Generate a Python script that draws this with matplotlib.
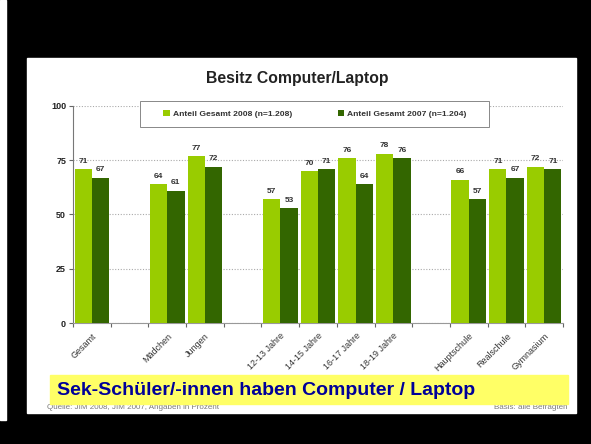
import matplotlib.pyplot as plt
import matplotlib.patches as mpatches
import numpy as np

plt.rcParams['font.family'] = ['Liberation Sans', 'DejaVu Sans']

categories = ['Gesamt', '', 'Mädchen', 'Jungen', '', '12-13 Jahre', '14-15 Jahre',
              '16-17 Jahre', '18-19 Jahre', '', 'Hauptschule', 'Realschule', 'Gymnasium']
val_2008 = [71, None, 64, 77, None, 57, 70, 76, 78, None, 66, 71, 72]
val_2007 = [67, None, 61, 72, None, 53, 71, 64, 76, None, 57, 67, 71]
label_2008 = 'Anteil Gesamt 2008 (n=1.208)'
label_2007 = 'Anteil Gesamt 2007 (n=1.204)'

light = '#99cc00'
dark = '#336600'

fig = plt.figure(figsize=(5.91, 4.44), dpi=100, facecolor='black')

# white strip on the left and the white slide
fig.patches.append(mpatches.Rectangle((0, 24 / 444), 6 / 591, 420 / 444,
                                      transform=fig.transFigure, color='white', zorder=-2))
fig.patches.append(mpatches.Rectangle((27 / 591, 1 - 413 / 444), 549 / 591, 355 / 444,
                                      transform=fig.transFigure, color='white', zorder=-2))

ax = fig.add_axes([73 / 591, 1 - 323 / 444, 490 / 591, 217 / 444])
ax.set_facecolor('none')
ax.set_zorder(1)

x = np.arange(len(categories))
w = 0.46
idx = [i for i, v in enumerate(val_2008) if v is not None]
v08 = [val_2008[i] for i in idx]
v07 = [val_2007[i] for i in idx]
xi = x[idx]
b1 = ax.bar(xi - w / 2, v08, w, color=light, label=label_2008, zorder=3)
b2 = ax.bar(xi + w / 2, v07, w, color=dark, label=label_2007, zorder=3)
for xx, v in zip(xi, v08):
    ax.text(xx - w / 2, v + 2, str(v), ha='center', va='bottom', fontsize=6,
            fontweight='bold', color='#333333', zorder=4)
for xx, v in zip(xi, v07):
    ax.text(xx + w / 2, v + 2, str(v), ha='center', va='bottom', fontsize=6,
            fontweight='bold', color='#333333', zorder=4)

ax.set_xlim(-0.5, len(categories) - 0.5)
ax.set_ylim(0, 100)
ax.set_yticks([0, 25, 50, 75, 100])
ax.tick_params(axis='y', labelsize=6.5, length=3, color='#666666', width=0.8, pad=2)
for t in ax.get_yticklabels():
    t.set_fontweight('bold')
    t.set_color('#222222')
ax.yaxis.grid(True, linestyle=(0, (1, 1.5)), color='#aaaaaa', linewidth=0.8, zorder=0)
ax.set_axisbelow(True)

ax.set_xticks(xi)
ax.set_xticklabels([categories[i] for i in idx], rotation=45, ha='right',
                   rotation_mode='anchor', fontsize=6.5, color='#333333')
ax.tick_params(axis='x', which='major', length=0, pad=6)
ax.set_xticks(np.arange(-0.5, len(categories)), minor=True)
ax.tick_params(axis='x', which='minor', length=3, color='#666666', width=0.8)

for s in ['top', 'right']:
    ax.spines[s].set_visible(False)
ax.spines['left'].set_color('#777777')
ax.spines['bottom'].set_color('#999999')
ax.spines['left'].set_linewidth(0.8)
ax.spines['bottom'].set_linewidth(0.8)

# legend box
box = mpatches.Rectangle((0.137, 0.903), 0.712, 0.12, transform=ax.transAxes,
                         facecolor='white', edgecolor='#888888', linewidth=0.7,
                         clip_on=False, zorder=5)
ax.add_patch(box)
leg = ax.legend(ncol=2, loc='center', bbox_to_anchor=(0.4935, 0.963),
                frameon=False, fontsize=6.1, handlelength=0.8, handleheight=0.8,
                handletextpad=0.3, columnspacing=5.4, borderpad=0, borderaxespad=0)
leg.set_zorder(6)
for t in leg.get_texts():
    t.set_fontweight('bold')
    t.set_color('#333333')

fig.text(297 / 591, 1 - 78 / 444, 'Besitz Computer/Laptop', ha='center', va='center',
         fontsize=11.3, fontweight='bold', color='#222222')

fig.text(47 / 591, 1 - 407 / 444, 'Quelle: JIM 2008, JIM 2007, Angaben in Prozent',
         ha='left', va='center', fontsize=5.8, color='#777777')
fig.text(568 / 591, 1 - 407 / 444, 'Basis: alle Befragten',
         ha='right', va='center', fontsize=5.8, color='#777777')

fig.patches.append(mpatches.Rectangle((50 / 591, 1 - 404 / 444), 518 / 591, 29 / 444,
                                      transform=fig.transFigure, color='#ffff66', zorder=5))
fig.text(57 / 591, 1 - 390 / 444, 'Sek-Schüler/-innen haben Computer / Laptop',
         ha='left', va='center', fontsize=14, fontweight='bold', color='#000099', zorder=6)

fig.savefig('out.png', dpi=100, facecolor='black')
